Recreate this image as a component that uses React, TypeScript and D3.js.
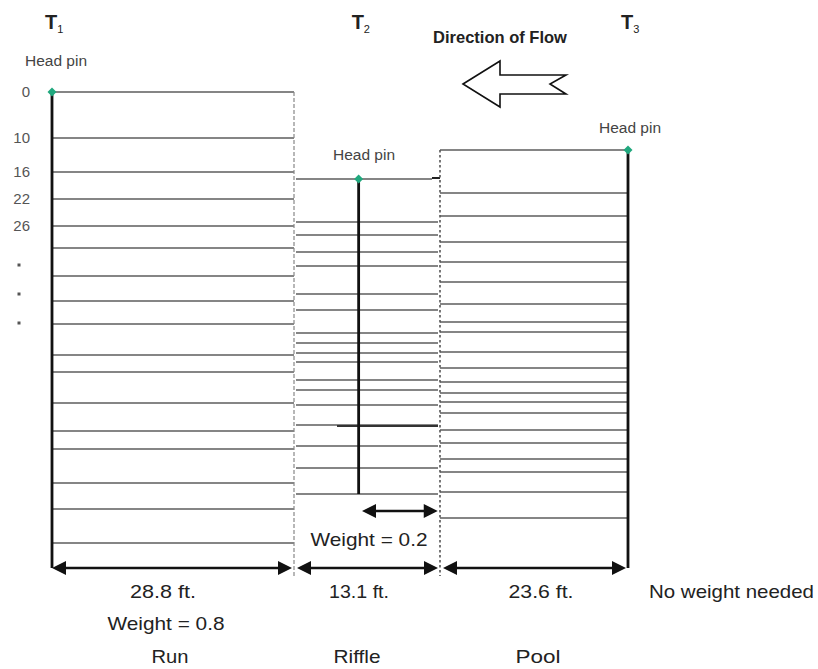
import React from "react";
import * as d3 from "d3";

// Cumulative stations along the reach (ft) at T1, section boundaries and T3
const stationFt = [0, 28.8, 41.9, 65.5];
const sectionLengthLabels = ["28.8 ft.", "13.1 ft.", "23.6 ft."];
const sectionNames = ["Run", "Riffle", "Pool"];
// Transect positions (ft) of the three head pins
const pinFt = [0, 34.6, 65.5];
const pinLabels = ["T1", "T2", "T3"];
// Offsets below the T1 head pin of each head pin and the bottom of each transect
const pinTop = [0, 87, 58];
const pinBottom = [476, 402, 476];
// Depth labels along T1
const depthLabels = ["0", "10", "16", "22", "26"];
const depthLabelOffsets = [0, 46, 80, 107, 134];
const ellipsisOffsets = [173, 202, 231];
// Horizontal measurement lines in each section (offset below the T1 head pin)
const runLines = [0, 46, 80, 107, 134, 156, 184, 209, 232, 263, 280, 311, 339, 357, 391, 417, 451];
const riffleLines = [87, 130, 143, 160, 174, 202, 218, 241, 251, 261, 270, 288, 298, 313, 333, 354, 376, 402];
const poolLines = [58, 101, 124, 150, 170, 190, 212, 230, 240, 260, 276, 290, 301, 310, 321, 338, 351, 367, 380, 400, 426];
const baseline = 476;
const weightArrowFt = [34.9, 41.7];
const weightArrowOffset = 419;

const W = 818;
const H = 669;

export default function App() {
  const x = d3.scaleLinear().domain(stationFt).range([52, 294, 440, 628]);
  const y = d3.scaleLinear().domain([0, 476]).range([92, 568]);
  const font = "'Liberation Sans', Arial, sans-serif";
  const lineCol = "#858585";

  const dblArrow = (x1: number, x2: number, yy: number, key: string) => {
    const L = 14, h = 7;
    return (
      <g key={key}>
        <line x1={x1 + 4} x2={x2 - 4} y1={yy} y2={yy} stroke="#111" strokeWidth={2.5} />
        <polygon points={`${x1},${yy} ${x1 + L},${yy - h} ${x1 + L},${yy + h}`} fill="#111" />
        <polygon points={`${x2},${yy} ${x2 - L},${yy - h} ${x2 - L},${yy + h}`} fill="#111" />
      </g>
    );
  };

  const diamond = (cx: number, cy: number, key: string) => (
    <polygon key={key} points={`${cx},${cy - 4.5} ${cx + 4.5},${cy} ${cx},${cy + 4.5} ${cx - 4.5},${cy}`} fill="#20a87e" />
  );

  const sectionX = (i: number) => [x(stationFt[i]), x(stationFt[i + 1])];

  return (
    <svg width={W} height={H} style={{ position: "absolute", left: 0, top: 0, background: "#fff" }} fontFamily={font}>
      <rect width={W} height={H} fill="#fff" />
      {/* horizontal measurement lines */}
      {runLines.map((d, i) => (
        <line key={"r" + i} x1={x(0)} x2={x(28.8)} y1={y(d)} y2={y(d)} stroke={lineCol} strokeWidth={2} />
      ))}
      {riffleLines.map((d, i) => (
        <line key={"f" + i} x1={x(28.8) + 2} x2={x(41.9) - (i === 0 ? 8 : 2)} y1={y(d)} y2={y(d)}
          stroke={lineCol} strokeWidth={2} />
      ))}
      {/* darker segment on riffle line */}
      <line x1={337} x2={x(41.9) - 2} y1={y(riffleLines[14]) + 1} y2={y(riffleLines[14]) + 1} stroke="#333" strokeWidth={1.8} />
      <line x1={x(41.9) - 8} x2={x(41.9)} y1={y(riffleLines[0]) - 1} y2={y(riffleLines[0]) - 1} stroke="#222" strokeWidth={2} />
      {poolLines.map((d, i) => (
        <line key={"p" + i} x1={x(41.9)} x2={x(65.5)} y1={y(d)} y2={y(d)} stroke={lineCol} strokeWidth={2} />
      ))}
      {/* section boundaries */}
      <line x1={x(28.8)} x2={x(28.8)} y1={y(0)} y2={y(baseline) + 8} stroke="#888" strokeWidth={1.2} strokeDasharray="4,2" />
      <line x1={x(41.9)} x2={x(41.9)} y1={y(poolLines[0])} y2={y(baseline) + 8} stroke="#555" strokeWidth={1.6} strokeDasharray="2.5,2.5" />
      {/* transects */}
      {pinFt.map((f, i) => (
        <line key={"t" + i} x1={x(f)} x2={x(f)} y1={y(pinTop[i])} y2={y(pinBottom[i])} stroke="#111" strokeWidth={2.8} />
      ))}
      {pinFt.map((f, i) => diamond(x(f), y(pinTop[i]), "d" + i))}
      {/* transect labels */}
      {pinFt.map((f, i) => (
        <text key={"tl" + i} x={x(f) - 7} y={29} fontSize={20} fontWeight="bold" fill="#222">
          T<tspan fontSize={11} fontWeight="normal" dy={4}>{pinLabels[i].slice(1)}</tspan>
        </text>
      ))}
      {/* head pin labels */}
      <text x={56} y={66} fontSize={15.5} fill="#444" textAnchor="middle">Head pin</text>
      <text x={364} y={160} fontSize={15.5} fill="#444" textAnchor="middle">Head pin</text>
      <text x={630} y={133} fontSize={15.5} fill="#444" textAnchor="middle">Head pin</text>
      {/* depth labels */}
      {depthLabels.map((t, i) => (
        <text key={"dl" + i} x={30} y={y(depthLabelOffsets[i]) + 5} fontSize={15} fill="#555" textAnchor="end">{t}</text>
      ))}
      {ellipsisOffsets.map((d, i) => (
        <rect key={"el" + i} x={17.5} y={y(d) - 1.5} width={3} height={3} fill="#555" />
      ))}
      {/* direction of flow */}
      <text x={500} y={43} fontSize={16.5} fontWeight="bold" fill="#222" textAnchor="middle">Direction of Flow</text>
      <polygon points="463,84 500,61 500,75 566,75 550,84 566,94 500,94 500,107" fill="#fff" stroke="#111" strokeWidth={1.6} strokeLinejoin="miter" />
      {/* bottom dimension arrows */}
      {[0, 1, 2].map((i) => {
        const [a, b] = sectionX(i);
        return dblArrow(a + (i === 0 ? 0 : 3), b - 2, y(baseline), "ba" + i);
      })}
      {dblArrow(x(weightArrowFt[0]), x(weightArrowFt[1]), y(weightArrowOffset), "wa")}
      <text x={369} y={546} fontSize={19} fill="#222" textAnchor="middle" textLength={117} lengthAdjust="spacingAndGlyphs">Weight = 0.2</text>
      {/* section texts */}
      {sectionLengthLabels.map((t, i) => {
        const cx = [163, 359, 541][i];
        return (
          <text key={"sl" + i} x={cx} y={598} fontSize={19} fill="#222" textAnchor="middle" textLength={[66, 60, 65][i]} lengthAdjust="spacingAndGlyphs">{t}</text>
        );
      })}
      <text x={166} y={630} fontSize={19} fill="#222" textAnchor="middle" textLength={117} lengthAdjust="spacingAndGlyphs">Weight = 0.8</text>
      {sectionNames.map((t, i) => {
        const cx = [170, 357, 538][i];
        return (
          <text key={"sn" + i} x={cx} y={663} fontSize={19} fill="#222" textAnchor="middle" textLength={[37, 47, 45][i]} lengthAdjust="spacingAndGlyphs">{t}</text>
        );
      })}
      <text x={649} y={598} fontSize={19} fill="#222" textLength={165} lengthAdjust="spacingAndGlyphs">No weight needed</text>
    </svg>
  );
}
